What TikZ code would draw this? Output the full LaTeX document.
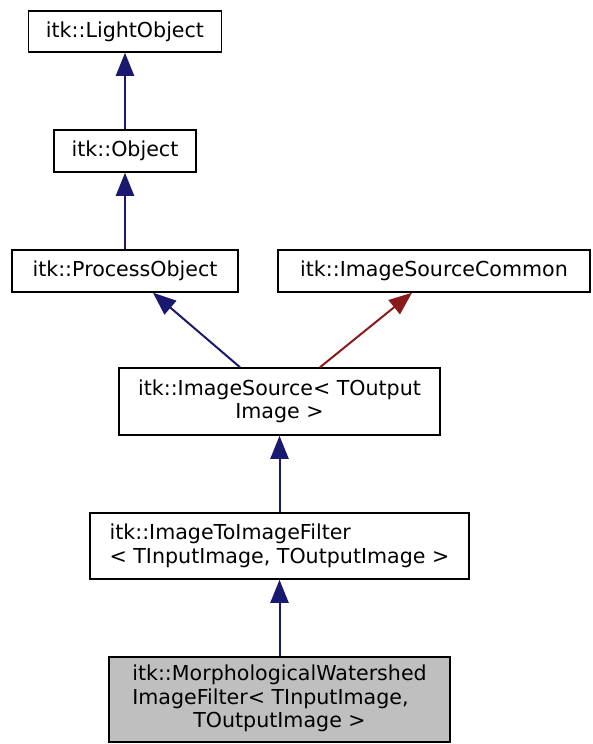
\documentclass[tikz,border=0pt]{standalone}
\usepackage{fontspec}
\setmainfont{DejaVu Sans}
\usepackage{xcolor}
\usepackage{tikz}
\usetikzlibrary{positioning, arrows.meta, calc}

\definecolor{pubblue}{RGB}{25,25,112}
\definecolor{privred}{RGB}{139,26,26}
\definecolor{curgray}{RGB}{191,191,191}

\begin{document}
\begin{tikzpicture}[
		x=1pt, y=-1pt,
		cls/.style={rectangle, draw=black, line width=1.5pt, fill=white, inner sep=0pt, font=\fontsize{20.6}{23.5}\selectfont},
		current/.style={cls, fill=curgray},
		pub/.style={-{Triangle[length=23pt, width=18pt]}, draw=pubblue, fill=pubblue, line width=2pt},
		priv/.style={-{Triangle[length=23pt, width=18pt]}, draw=privred, fill=privred, line width=2pt}
		]

		\useasboundingbox (0,0) rectangle (592,744);

		\node[cls, minimum width=193pt, minimum height=41pt] (light) at (125,31.5) {itk::LightObject};
		\node[cls, minimum width=142pt, minimum height=42pt] (object) at (125,151) {itk::Object};
		\node[cls, minimum width=226pt, minimum height=42pt] (process) at (125,271) {itk::ProcessObject};
		\node[cls, minimum width=312pt, minimum height=42pt] (common) at (434,271) {itk::ImageSourceCommon};

		\node[cls, align=center, minimum width=321pt, minimum height=67pt] (source) at (279.5,401.5) {itk::ImageSource< TOutput\\Image >};
		\node[cls, align=left, minimum width=379pt, minimum height=66pt] (filter) at (279.5,546) {itk::ImageToImageFilter\\< TInputImage, TOutputImage >};
		\node[current, minimum width=341pt, minimum height=85pt] (watershed) at (279.5,699.5) {%
			\begin{tabular}{@{}l@{}}
				itk::MorphologicalWatershed\\
				ImageFilter< TInputImage,\\
				\multicolumn{1}{@{}c@{}}{TOutputImage >}
			\end{tabular}};

		\draw[pub] (object) -- (light);
		\draw[pub] (process) -- (object);
		\draw[pub] ([xshift=-39.5pt]source.north) -- ([xshift=28pt]process.south);
		\draw[priv] ([xshift=40.5pt]source.north) -- ([xshift=-22pt]common.south);
		\draw[pub] (filter) -- (source);
		\draw[pub] (watershed) -- (filter);
	\end{tikzpicture}
\end{document}
